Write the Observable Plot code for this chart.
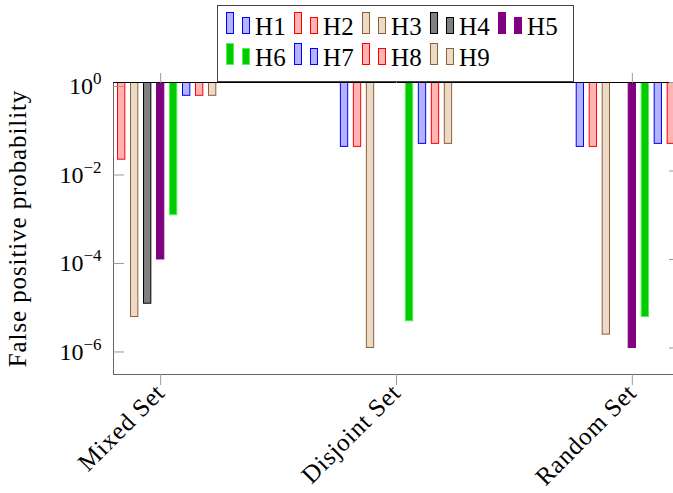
<!DOCTYPE html>
<html><head><meta charset="utf-8">
<script src="https://cdn.jsdelivr.net/npm/d3@7"></script>
<script src="https://cdn.jsdelivr.net/npm/@observablehq/plot@0.6"></script>
<style>
html,body{margin:0;padding:0;background:#fff;overflow:hidden;}
#wrap{position:relative;width:673px;height:493px;overflow:hidden;background:#fff;}
#legend{position:absolute;left:217px;top:5px;width:355px;height:75px;border:1px solid #444;background:#fff;}
</style></head><body><div id="wrap"><div id="chart"></div><div id="legend"></div></div>
<script>
// ---- data ----
const groups = ["Mixed Set", "Disjoint Set", "Random Set"];
const seriesNames = ["H1", "H2", "H3", "H4", "H5", "H6", "H7", "H8", "H9"];
const mixedSet    = [0.02, 0.018, 5e-6, 1e-5, 1e-4, 1e-3, 0.5, 0.5, 0.5];
const disjointSet = [0.035, 0.035, 1e-6, null, null, 4e-6, 0.041, 0.041, 0.041];
const randomSet   = [0.035, 0.035, 2e-6, null, 1e-6, 5e-6, 0.041, 0.041, 0.041];
const fillColors   = ["#b3b3ff", "#ffb3b3", "#ecd9c6", "#808080", "#800080", "#00cc00", "#b3b3ff", "#ffb3b3", "#ecd9c6"];
const strokeColors = ["#0000ff", "#ff0000", "#8c6239", "#000000", "#800080", "#55ee55", "#0000ff", "#ff0000", "#8c6239"];
const yTicks = [1, 1e-2, 1e-4, 1e-6];
const yTickExponents = ["0", "−2", "−4", "−6"];
const yLabel = "False positive probability";

// ---- layout ----
const barStep = 0.0551;   // spacing between bars, in group units
const barHalf = 0.0155;   // half bar width, in group units
const sets = [mixedSet, disjointSet, randomSet];
const rows = [];
groups.forEach((g, gi) => seriesNames.forEach((s, si) => {
  const v = sets[gi][si];
  if (v != null) rows.push({gi, si, series: s, value: v});
}));

const FONT = "'Liberation Serif', serif";

const plot = Plot.plot({
  width: 700, height: 493,
  marginLeft: 113, marginRight: 21, marginTop: 82, marginBottom: 119,
  style: {fontFamily: FONT, fontSize: "24px", maxWidth: "none", background: "transparent", overflow: "hidden"},
  x: {type: "linear", domain: [-0.2, 2.2]},
  y: {type: "log", domain: [Math.pow(10, -6.6), 1]},
  marks: [
    Plot.rectY(rows, {
      x1: d => d.gi + (d.si - 4) * barStep - barHalf,
      x2: d => d.gi + (d.si - 4) * barStep + barHalf,
      y1: 1, y2: d => d.value,
      fill: d => fillColors[d.si], stroke: d => strokeColors[d.si], strokeWidth: 1,
      clip: true
    }),
    Plot.frame({stroke: "#666", strokeWidth: 1}),
    Plot.ruleY([1], {stroke: "black", strokeWidth: 1}),
    Plot.axisY(yTicks, {anchor: "left", tickSize: -11, stroke: "#999", strokeOpacity: 1,
      tickPadding: 23, textAnchor: "end", dy: 4, fill: "black", fontSize: 24,
      tickFormat: d => "10^" + yTickExponents[yTicks.indexOf(d)], label: null}),
    Plot.axisY(yTicks, {anchor: "right", tickSize: -11, stroke: "#999", strokeOpacity: 1,
      tickFormat: () => "", label: null}),
    Plot.axisX([0, 1, 2], {anchor: "bottom", tickSize: 11, stroke: "#999", strokeOpacity: 1,
      tickRotate: -45, fill: "black", fontSize: 25, tickPadding: 3,
      tickFormat: d => groups[d], label: null}),
    Plot.axisX([0, 1, 2], {anchor: "top", tickSize: 10, stroke: "#999", strokeOpacity: 1,
      tickFormat: () => "", label: null}),
    Plot.text([yLabel], {text: d => d, frameAnchor: "left", textAnchor: "middle", dx: -96, rotate: -90,
      fontSize: 25, fill: "black"})
  ]
});
document.getElementById("chart").appendChild(plot);

// superscripts on the log tick labels
plot.querySelectorAll('g[aria-label="y-axis tick label"] text').forEach(t => {
  const s = t.textContent;
  const k = s.indexOf("^");
  if (k < 0) return;
  t.textContent = s.slice(0, k);
  const ts = document.createElementNS("http://www.w3.org/2000/svg", "tspan");
  ts.setAttribute("dy", "-10");
  ts.setAttribute("font-size", "17");
  ts.textContent = s.slice(k + 1);
  t.appendChild(ts);
});
plot.querySelectorAll('g[aria-label="text"] text').forEach(t => t.setAttribute("letter-spacing", "0.9"));
plot.querySelectorAll('g[aria-label="x-axis tick label"] text').forEach(t => t.setAttribute("letter-spacing", "0.8"));

// ---- legend ----
const NS = "http://www.w3.org/2000/svg";
const lg = document.createElementNS(NS, "svg");
lg.setAttribute("width", 355); lg.setAttribute("height", 75);
lg.style.display = "block";
seriesNames.forEach((s, i) => {
  const row = i < 5 ? 0 : 1, col = i < 5 ? i : i - 5;
  const x0 = 8 + 68 * col, yb = 27 + 31 * row;
  const r1 = document.createElementNS(NS, "rect");
  r1.setAttribute("x", x0 + 0.5); r1.setAttribute("y", yb - 21 + 0.5);
  r1.setAttribute("width", 7); r1.setAttribute("height", 21);
  r1.setAttribute("fill", fillColors[i]); r1.setAttribute("stroke", strokeColors[i]);
  const r2 = document.createElementNS(NS, "rect");
  r2.setAttribute("x", x0 + 16.5); r2.setAttribute("y", yb - 16 + 0.5);
  r2.setAttribute("width", 7); r2.setAttribute("height", 16);
  r2.setAttribute("fill", fillColors[i]); r2.setAttribute("stroke", strokeColors[i]);
  const tx = document.createElementNS(NS, "text");
  tx.setAttribute("x", x0 + 29); tx.setAttribute("y", yb + 2);
  tx.setAttribute("font-family", FONT); tx.setAttribute("font-size", 25);
  tx.setAttribute("letter-spacing", "0.3");
  tx.textContent = s;
  lg.appendChild(r1); lg.appendChild(r2); lg.appendChild(tx);
});
document.getElementById("legend").appendChild(lg);
</script></body></html>
